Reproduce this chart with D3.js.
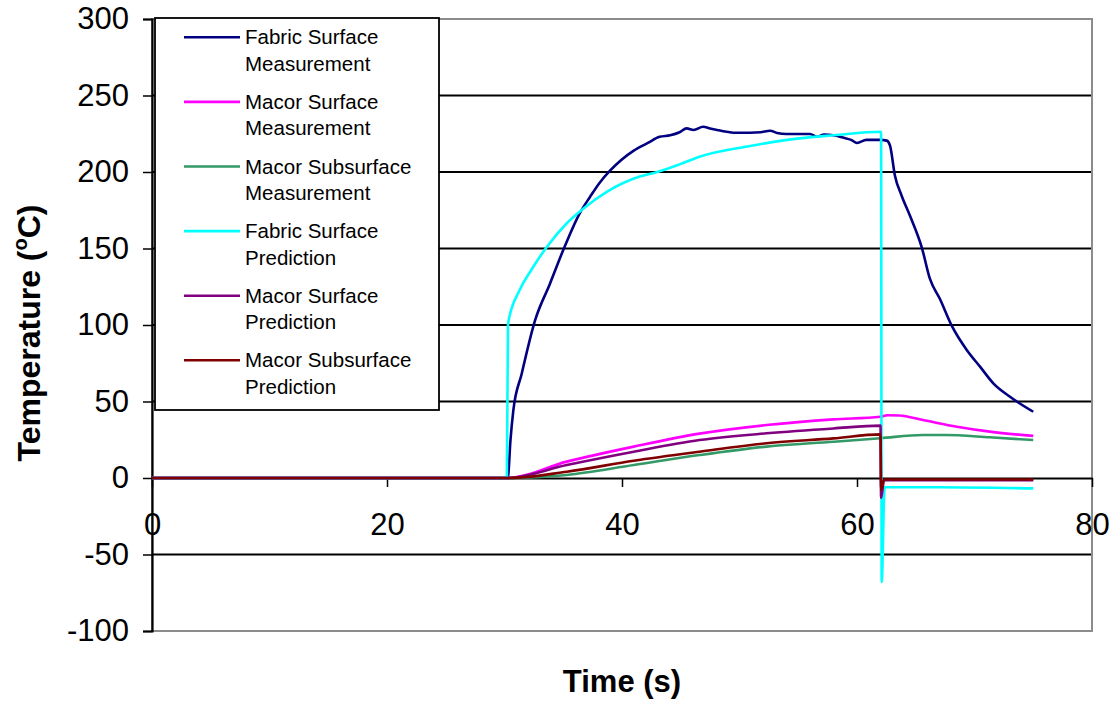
<!DOCTYPE html>
<html><head><meta charset="utf-8">
<script src="https://cdn.jsdelivr.net/npm/d3@7"></script>
<style>body{margin:0;background:#fff}svg{display:block;font-family:"Liberation Sans",Arial,sans-serif}</style>
</head><body>
<svg id="c" width="1118" height="702"></svg>
<script>
// ---- data (time s, temperature °C) ----
const xTicks = [0, 20, 40, 60, 80];
const yTicks = [-100, -50, 0, 50, 100, 150, 200, 250, 300];
const seriesNames = ["Fabric Surface Measurement","Macor Surface Measurement","Macor Subsurface Measurement","Fabric Surface Prediction","Macor Surface Prediction","Macor Subsurface Prediction"];
const seriesColors = ["#000080","#FF00FF","#339966","#00FFFF","#800080","#800000"];

const fabricSurfaceMeas = [[0,0],[10,0],[20,0],[30.2,0],[30.3,1],[30.5,24],[30.75,44],[31.46,68],[32.6,103],[33.87,127],[35.0,149],[36.4,173],[37.3,184],[38.1,193],[39.0,201],[41.0,214],[42.2,219],[43.2,223],[44.1,224],[44.9,226],[45.5,228.5],[46.1,227.5],[46.9,229.6],[47.5,228.5],[48.1,227.5],[48.9,226.3],[49.5,225.7],[50.9,225.7],[51.8,226],[52.6,227],[53.2,225.5],[54.0,224.8],[56.0,224.8],[56.6,223],[57.2,224.5],[58.0,224],[58.8,222.5],[59.5,221],[60.0,219],[60.8,221],[62.0,221],[62.53,220.5],[62.81,217.2],[63.23,197.6],[63.8,184.5],[64.51,171.4],[65.51,150.8],[66.21,130.1],[67.06,117],[68.06,99.6],[69.34,83.7],[70.47,72.8],[71.6,61.9],[73.02,53.1],[75.0,43.3]];
const macorSurfaceMeas = [[0,0],[10,0],[20,0],[30.2,0],[35.3,10.7],[41,20.5],[46.6,29],[52.3,34.6],[58,38.3],[62,40],[62.6,41],[63.6,40.8],[65.6,37.9],[68.5,33.5],[71.3,30.3],[75,27.5]];
const macorSubsurfaceMeas = [[0,0],[10,0],[20,0],[30.5,0],[35.3,2],[41,8.5],[46.6,15],[52.3,20.5],[58,23.7],[62,26],[65.6,28.1],[67.5,28.1],[71.3,26.6],[75,24.8]];
const fabricSurfacePred = [[0,0],[30.2,0],[30.3,101],[31.3,123],[32.2,135],[33.6,151],[35.3,166.5],[36.7,176],[38.7,187],[41.5,197],[43,200],[44.9,205],[46.6,210],[50.9,217],[55.1,222],[58,224],[62.05,226.3],[62.1,-68],[62.35,-6],[67,-6],[75,-6.8]];
const macorSurfacePred = [[0,0],[30.2,0],[35.3,8.5],[41,17.2],[46.6,24.8],[52.3,29.2],[58,32.4],[62,34.2],[62.05,-13],[62.3,-1.5],[75,-1.5]];
const macorSubsurfacePred = [[0,0],[30.4,0],[35.3,4.1],[41,11.3],[46.6,17.2],[52.3,22.7],[58,25.9],[62,28.5],[62.05,-8],[62.3,-1],[75,-1]];

const seriesData = [fabricSurfaceMeas, macorSurfaceMeas, macorSubsurfaceMeas, fabricSurfacePred, macorSurfacePred, macorSubsurfacePred];

// ---- layout ----
const L = 152, R = 1092, T = 19, B = 631;
const svg = d3.select("#c");
const x = d3.scaleLinear().domain([0, 80]).range([L, R]);
const y = d3.scaleLinear().domain([-100, 300]).range([B, T]);

// gridlines
svg.append("g").selectAll("line").data(yTicks.filter(v => v !== 300 && v !== -100 && v !== 0)).join("line")
  .attr("x1", L).attr("x2", R).attr("y1", d => y(d)).attr("y2", d => y(d))
  .attr("stroke", "#000").attr("stroke-width", 2);

// plot border (gray)
svg.append("rect").attr("x", L).attr("y", T).attr("width", R - L).attr("height", B - T)
  .attr("fill", "none").attr("stroke", "#8c8c8c").attr("stroke-width", 2);

// y axis
const yAxis = d3.axisLeft(y).tickValues(yTicks).tickSize(9).tickPadding(14).tickFormat(d => String(d));
const gy = svg.append("g").attr("transform", `translate(${L},0)`).call(yAxis);
gy.select(".domain").attr("stroke", "#000").attr("stroke-width", 2.2);
gy.selectAll(".tick line").attr("stroke", "#000").attr("stroke-width", 1.5);
gy.selectAll("text").attr("font-size", 31).attr("fill", "#000").attr("font-family", "Liberation Sans, Arial, sans-serif");

// x axis at y=0
const xAxis = d3.axisBottom(x).tickValues(xTicks).tickSize(9).tickSizeOuter(0).tickPadding(26).tickFormat(d => String(d));
const gx = svg.append("g").attr("transform", `translate(0,${y(0)})`).call(xAxis);
gx.select(".domain").attr("stroke", "#000").attr("stroke-width", 2);
gx.selectAll(".tick line").attr("stroke", "#000").attr("stroke-width", 1.5);
gx.selectAll("text").attr("font-size", 31).attr("fill", "#000").attr("font-family", "Liberation Sans, Arial, sans-serif");

// series
const line = d3.line().x(d => x(d[0])).y(d => y(d[1])).curve(d3.curveMonotoneX);
svg.append("g").selectAll("path").data(seriesData).join("path")
  .attr("d", line).attr("fill", "none")
  .attr("stroke", (d, i) => seriesColors[i]).attr("stroke-width", 2.6)
  .attr("stroke-linejoin", "round");

// legend
const lg = svg.append("g");
lg.append("rect").attr("x", 155).attr("y", 18).attr("width", 284).attr("height", 392)
  .attr("fill", "#fff").attr("stroke", "#000").attr("stroke-width", 1.8);
seriesNames.forEach((name, i) => {
  const ly = 37.3 + i * 64.6;
  lg.append("line").attr("x1", 184).attr("x2", 240).attr("y1", ly).attr("y2", ly)
    .attr("stroke", seriesColors[i]).attr("stroke-width", 2.6);
  const words = name.split(" ");
  const l2 = words.pop();
  const t = lg.append("text").attr("x", 245).attr("y", ly + 7).attr("font-size", 20.5).attr("fill", "#000");
  t.append("tspan").attr("x", 245).text(words.join(" "));
  t.append("tspan").attr("x", 245).attr("dy", 26.4).text(l2);
});

// titles
svg.append("text").attr("x", 622).attr("y", 692).attr("text-anchor", "middle")
  .attr("font-size", 31).attr("font-weight", "bold").text("Time (s)");
const yt = svg.append("text").attr("transform", `translate(40,333) rotate(-90)`)
  .attr("text-anchor", "middle").attr("font-size", 32).attr("font-weight", "bold");
yt.append("tspan").text("Temperature (");
yt.append("tspan").attr("font-size", 20).attr("dy", -13).text("o");
yt.append("tspan").attr("dy", 13).text("C)");
</script>
</body></html>
